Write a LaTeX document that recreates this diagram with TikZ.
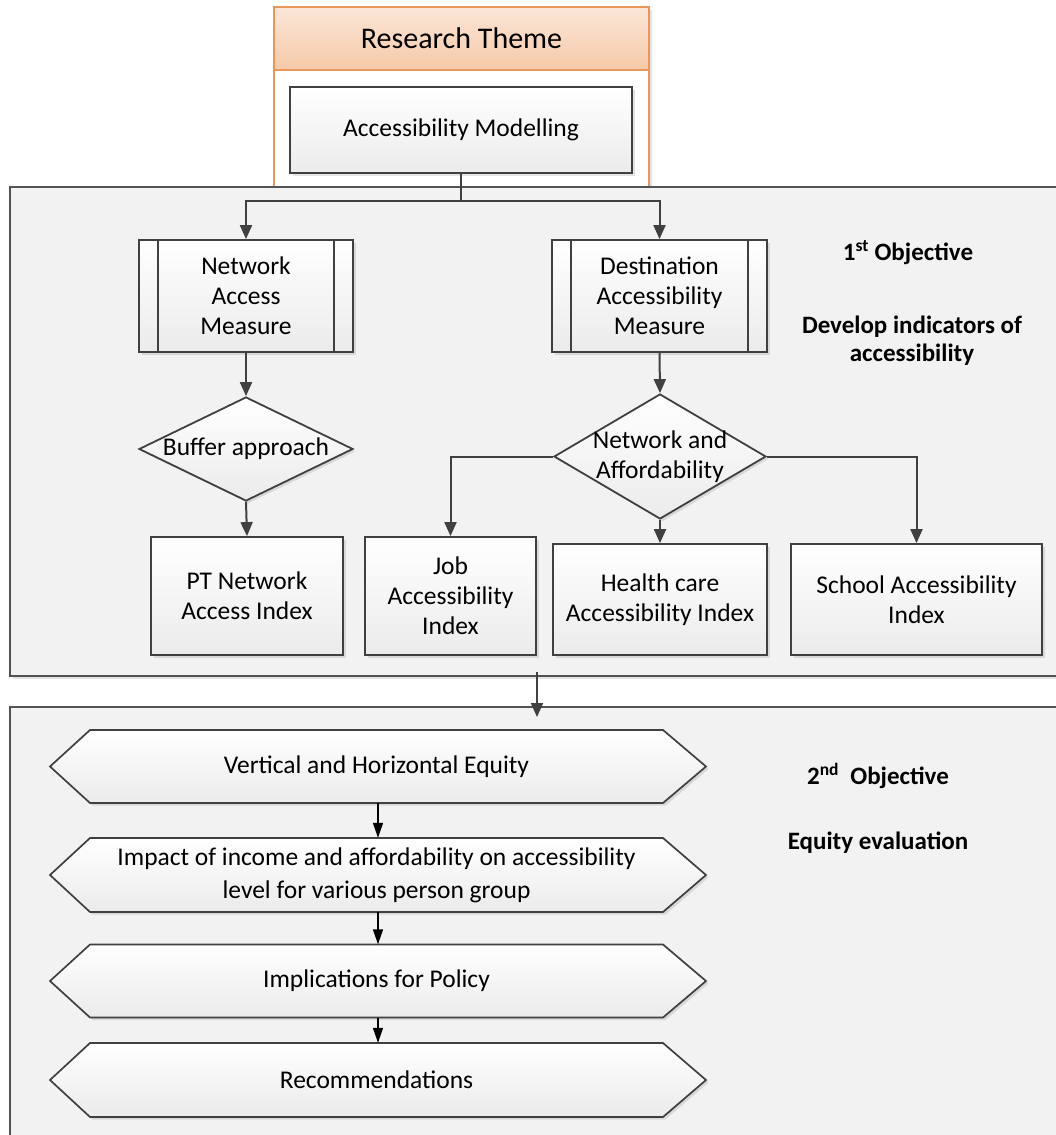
\documentclass[tikz,border=0pt]{standalone}
\usepackage{fontspec}
\setmainfont{Carlito}
\usetikzlibrary{arrows.meta,shapes.geometric,shadows,calc}

\definecolor{panelfill}{HTML}{F2F2F2}
\definecolor{linegray}{HTML}{404040}
\definecolor{themeorange}{HTML}{E9965A}
\definecolor{themetop}{HTML}{FBE6D8}
\definecolor{themebot}{HTML}{F6C9A8}
\definecolor{boxbot}{HTML}{EBEBEB}

% hexagonal process box: centre x, centre y, half width of the flat part, half height
\newcommand\hexshape[4]{%
  \draw[hexbox] (#1-#3-40,#2) -- (#1-#3,#2-#4) -- (#1+#3,#2-#4) -- (#1+#3+43,#2)
    -- (#1+#3,#2+#4) -- (#1-#3,#2+#4) -- cycle;}

\begin{document}
\begin{tikzpicture}[x=1pt,y=-1pt,
  every node/.style={font=\fontsize{25.5}{30}\selectfont, align=center, inner sep=0pt},
  softshadow/.style={drop shadow={shadow xshift=2.5pt,shadow yshift=-2.5pt,opacity=0.22}},
  panel/.style={draw=linegray!90, line width=1.6pt, fill=panelfill, softshadow},
  stepbox/.style={draw=linegray, line width=1.8pt, top color=white, bottom color=boxbot, softshadow},
  procbox/.style={stepbox},
  decision/.style={diamond, draw=linegray, line width=1.8pt, top color=white, bottom color=boxbot, softshadow},
  hexbox/.style={draw=linegray, line width=1.7pt, top color=white, bottom color=boxbot, softshadow},
  plain/.style={draw=none, fill=none},
  objtext/.style={font=\fontsize{25}{28}\selectfont\bfseries},
  flowarrow/.style={draw=linegray, line width=2pt, -{Triangle[length=14pt,width=12pt]}},
  eqarrow/.style={draw=black, line width=1.5pt, -{Triangle[length=15pt,width=10pt]}},
]
\useasboundingbox (0,0) rectangle (1056,1135);
\fill[white] (0,0) rectangle (1056,1135);
\clip (0,0) rectangle (1056,1135);

% research theme container
\draw[themeorange, line width=1.6pt, fill=white, softshadow] (274,7) rectangle (649,200);
\node[draw=themeorange, line width=1.6pt, top color=themetop, bottom color=themebot,
      minimum width=375pt, minimum height=63pt, font=\fontsize{30}{34}\selectfont] (theme) at (461.5,38.5) {Research Theme};
\node[stepbox, minimum width=342pt, minimum height=86pt] (am) at (461,130) {Accessibility Modelling};

% objective panels
\node[panel, minimum width=1065pt, minimum height=489pt] (obj1) at (542.5,431.5) {};
\node[panel, minimum width=1065pt, minimum height=443pt] (obj2) at (542.5,928.5) {};

% first objective: indicators
\node[procbox, minimum width=214pt, minimum height=112pt] (nam) at (246,296) {Network\\Access\\Measure};
\draw[linegray, line width=1.6pt] ([xshift=20pt]nam.north west) -- ([xshift=20pt]nam.south west)
  ([xshift=-20pt]nam.north east) -- ([xshift=-20pt]nam.south east);
\node[procbox, minimum width=215pt, minimum height=112pt] (dam) at (659.5,296) {Destination\\Accessibility\\Measure};
\draw[linegray, line width=1.6pt] ([xshift=20pt]dam.north west) -- ([xshift=20pt]dam.south west)
  ([xshift=-20pt]dam.north east) -- ([xshift=-20pt]dam.south east);

\node[decision, minimum width=214pt, minimum height=104pt] (buf) at (246,449) {};
\node (buft) at (246,449) {Buffer approach};
\node[decision, minimum width=212pt, minimum height=125pt] (na) at (660,456.5) {};
\node (nat) at (660,457) {Network and\\Affordability};

\node[stepbox, minimum width=192pt, minimum height=118pt] (pt) at (247,596) {PT Network\\Access Index};
\node[stepbox, minimum width=171pt, minimum height=118pt] (job) at (450.5,596) {Job\\Accessibility\\Index};
\node[stepbox, minimum width=214pt, minimum height=111pt] (hc) at (660,599.5) {Health care\\Accessibility Index};
\node[stepbox, minimum width=251pt, minimum height=111pt] (sch) at (916.5,599.5) {School Accessibility\\Index};

\node[objtext] (o1) at (908,253) {1\textsuperscript{st} Objective};
\node[objtext] (o1d) at (912,341) {Develop indicators of\\accessibility};

% connectors of the first objective
\draw[flowarrow] (am.south) -- ++(0,27) coordinate (split) -| (nam.north);
\draw[flowarrow] (split) -| (dam.north);
\draw[flowarrow] (nam.south) -- (buf.north);
\draw[flowarrow] (buf.south) -- (pt.north);
\draw[flowarrow] (dam.south) -- (na.north);
\draw[flowarrow] (na.west) -| (job.north);
\draw[flowarrow] (na.south) -- (hc.north);
\draw[flowarrow] (na.east) -| (sch.north);

% hand-over between the panels
\coordinate (p1out) at (537,672);
\coordinate (p2in) at (537,717);
\draw[flowarrow] (p1out) -- (p2in);

% second objective: equity evaluation
\hexshape{376.5}{766.5}{286.5}{36.5}
\node[plain, minimum width=573pt, minimum height=73pt] (h1) at (376.5,766.5) {Vertical and Horizontal Equity};
\hexshape{376.5}{875}{286.5}{37}
\node[plain, minimum width=573pt, minimum height=74pt, font=\fontsize{25.5}{33}\selectfont] (h2) at (376.5,875) {Impact of income and affordability on accessibility\\level for various person group};
\hexshape{376.5}{981}{286.5}{36.5}
\node[plain, minimum width=573pt, minimum height=73pt] (h3) at (376.5,981) {Implications for Policy};
\hexshape{376.5}{1080}{286.5}{37}
\node[plain, minimum width=573pt, minimum height=74pt] (h4) at (376.5,1080) {Recommendations};

\draw[eqarrow] ([xshift=1.5pt]h1.south) -- ([xshift=1.5pt]h2.north);
\draw[eqarrow] ([xshift=1.5pt]h2.south) -- ([xshift=1.5pt]h3.north);
\draw[eqarrow] ([xshift=1.5pt]h3.south) -- ([xshift=1.5pt]h4.north);

\node[objtext] (o2) at (878,776) {2\textsuperscript{nd}~ Objective};
\node[objtext] (o2d) at (878,843) {Equity evaluation};
\end{tikzpicture}
\end{document}
